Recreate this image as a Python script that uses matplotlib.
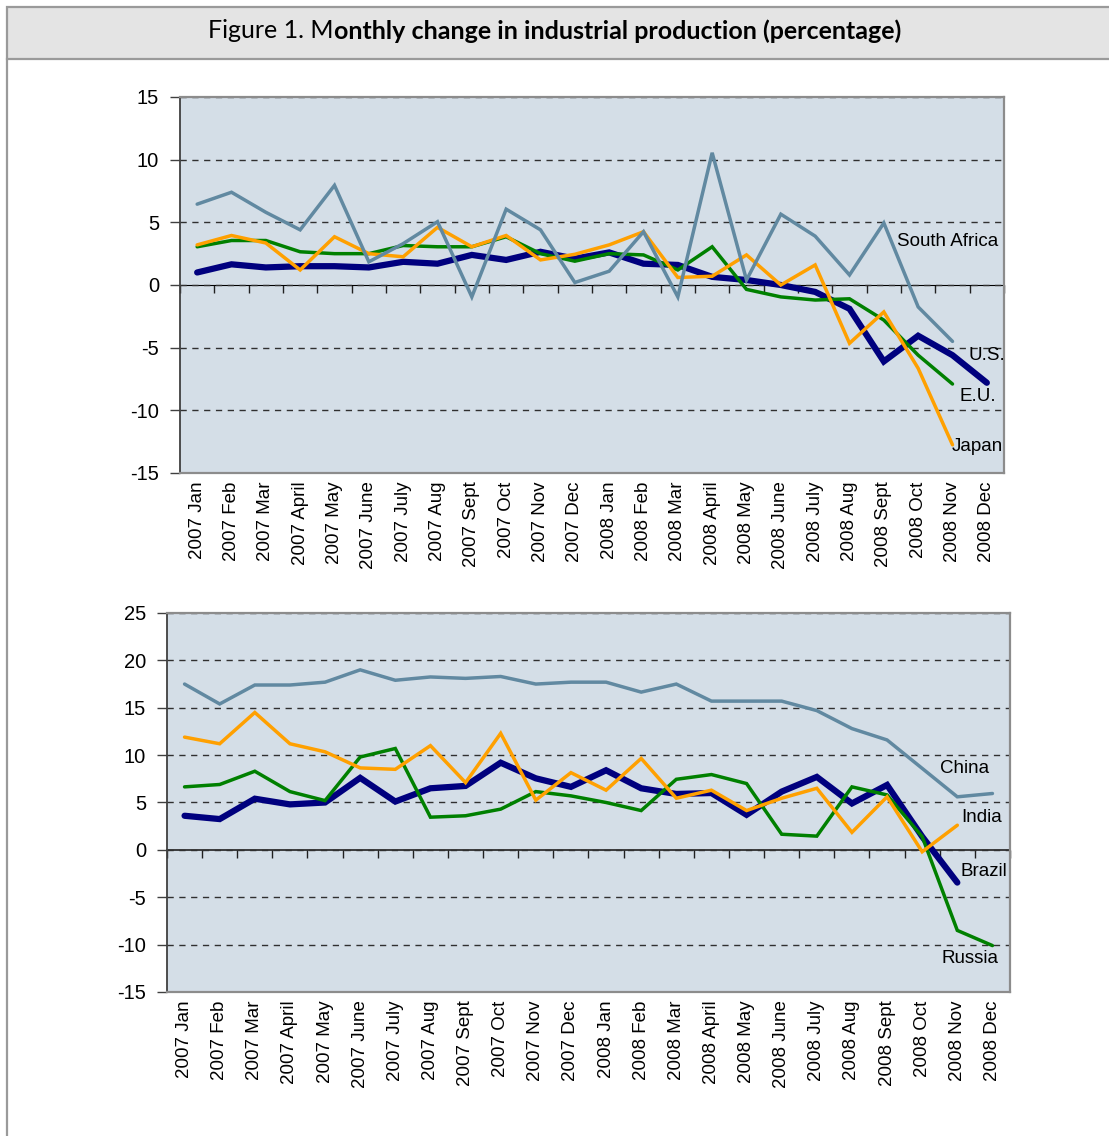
import numpy as np
import matplotlib
matplotlib.use("Agg")
import matplotlib.pyplot as plt
from matplotlib.patches import Rectangle
from matplotlib.lines import Line2D

matplotlib.rcParams.update({'font.family': ['Liberation Sans', 'DejaVu Sans'],
                            'font.size': 13.5,
                            'axes.unicode_minus': False})

months = ['2007 Jan', '2007 Feb', '2007 Mar', '2007 April', '2007 May', '2007 June',
          '2007 July', '2007 Aug', '2007 Sept', '2007 Oct', '2007 Nov', '2007 Dec',
          '2008 Jan', '2008 Feb', '2008 Mar', '2008 April', '2008 May', '2008 June',
          '2008 July', '2008 Aug', '2008 Sept', '2008 Oct', '2008 Nov', '2008 Dec']

# top panel (Nov values end where the series end)
us = [1.0, 1.65, 1.4, 1.5, 1.5, 1.4, 1.85, 1.7, 2.4, 2.0, 2.65, 2.1,
      2.6, 1.7, 1.6, 0.65, 0.4, 0.0, -0.55, -1.9, -6.1, -4.05, -5.6, -7.8]
eu = [3.05, 3.55, 3.55, 2.65, 2.5, 2.5, 3.15, 3.05, 3.05, 3.85, 2.5, 1.9,
      2.5, 2.4, 1.2, 3.05, -0.35, -0.95, -1.2, -1.1, -2.8, -5.6, -7.9]
japan = [3.2, 3.95, 3.35, 1.2, 3.85, 2.5, 2.25, 4.6, 3.05, 3.95, 2.0, 2.45,
         3.2, 4.25, 0.6, 0.7, 2.4, 0.0, 1.6, -4.65, -2.15, -6.65, -12.75]
south_africa = [6.45, 7.4, 5.8, 4.4, 7.95, 1.85, 3.3, 5.05, -0.95, 6.05, 4.4, 0.2,
                1.1, 4.25, -0.95, 10.55, 0.4, 5.65, 3.9, 0.8, 4.95, -1.75, -4.5]

# bottom panel
brazil = [3.6, 3.25, 5.4, 4.8, 5.0, 7.6, 5.1, 6.5, 6.75, 9.2, 7.55, 6.65,
          8.4, 6.5, 5.9, 6.0, 3.7, 6.15, 7.7, 4.9, 6.85, 1.4, -3.45]
russia = [6.65, 6.9, 8.3, 6.15, 5.2, 9.8, 10.7, 3.45, 3.6, 4.3, 6.15, 5.7,
          5.0, 4.15, 7.45, 7.95, 7.0, 1.65, 1.45, 6.65, 5.8, 1.4, -8.5, -10.1]
india = [11.9, 11.2, 14.5, 11.2, 10.35, 8.65, 8.5, 11.0, 7.1, 12.3, 5.25, 8.15,
         6.3, 9.65, 5.45, 6.3, 4.15, 5.45, 6.5, 1.85, 5.6, -0.2, 2.6]
china = [17.5, 15.4, 17.4, 17.4, 17.7, 19.0, 17.9, 18.25, 18.1, 18.3, 17.5, 17.7,
         17.7, 16.65, 17.5, 15.7, 15.7, 15.7, 14.7, 12.8, 11.6, 8.6, 5.6, 5.95]

NAVY = '#00007e'
GREEN = '#008000'
ORANGE = '#ffa000'
STEEL = '#6189a1'

W, H = 1109, 1136
fig = plt.figure(figsize=(W / 100, H / 100), dpi=100)


def box(l, t, r, b):
    return [l / W, 1 - b / H, (r - l) / W, (b - t) / H]


# frame and title band
fig.patches.append(Rectangle((7 / W, 1 - 59 / H), 1.1, 52 / H, transform=fig.transFigure,
                             facecolor='#e4e4e4', edgecolor='#9a9a9a', lw=1.6))
fig.lines.append(Line2D([7 / W, 7 / W], [0, 1 - 59 / H], transform=fig.transFigure,
                        color='#9a9a9a', lw=1.6))
fig.text(334 / W, 1 - 31 / H, 'Figure 1. M', ha='right', va='center',
         family='Lato', fontsize=18)
fig.text(334 / W, 1 - 31 / H, 'onthly change in industrial production (percentage)',
         ha='left', va='center', family='Lato', fontsize=18, weight='bold')


def panel(rect, ylim, series, labels):
    ax = fig.add_axes(rect)
    x = np.arange(len(months))
    ax.set_facecolor('#d4dee7')
    for vals, color, lw in series:
        ax.plot(x[:len(vals)], vals, color=color, lw=lw, solid_joinstyle='miter',
                solid_capstyle='round', zorder=3)
    for txt, lx, ly in labels:
        ax.text(lx, ly, txt, ha='left', va='center', fontsize=13.5, zorder=4)
    ax.set_xlim(-0.5, len(months) - 0.5)
    ax.set_ylim(*ylim)
    ax.set_yticks(np.arange(ylim[0], ylim[1] + 1, 5))
    ax.yaxis.grid(True, color='#303030', lw=1, ls=(0, (4.5, 4)))
    ax.set_axisbelow(True)
    ax.set_xticks(x)
    ax.set_xticklabels(months, rotation=90, va='top')
    ax.tick_params(axis='x', length=0, pad=6)
    ax.tick_params(axis='y', length=7, width=1, color='#404040', pad=8, direction='out',
                   labelsize=14.5)
    for s in ['top', 'right', 'bottom']:
        ax.spines[s].set_color('#8c8c8c')
        ax.spines[s].set_linewidth(1.6)
    ax.spines['left'].set_color('#404040')
    ax.spines['left'].set_linewidth(1.3)
    # zero axis with category boundary ticks
    zero = (0 - ylim[0]) / (ylim[1] - ylim[0])
    sec = ax.secondary_xaxis(zero)
    sec.set_xticks(np.arange(len(months) + 1) - 0.5)
    sec.xaxis.set_ticks_position('bottom')
    sec.tick_params(axis='x', length=6, width=1, color='#202020', direction='out',
                    labelbottom=False, labeltop=False)
    sec.spines['bottom'].set_color('#202020')
    sec.spines['bottom'].set_linewidth(1.2)
    return ax


panel(box(180, 97, 1004, 473), (-15, 15),
      [(us, NAVY, 4.5), (eu, GREEN, 2.5), (japan, ORANGE, 2.5), (south_africa, STEEL, 2.5)],
      [('South Africa', 20.38, 3.45), ('U.S.', 22.48, -5.6),
       ('E.U.', 22.19, -8.9), ('Japan', 21.99, -12.9)])

panel(box(167, 613, 1010, 992), (-15, 25),
      [(brazil, NAVY, 4.5), (russia, GREEN, 2.5), (india, ORANGE, 2.5), (china, STEEL, 2.5)],
      [('China', 21.5, 8.6), ('India', 22.1, 3.4),
       ('Brazil', 22.1, -2.3), ('Russia', 21.54, -11.5)])

fig.savefig('out.png', dpi=100)
